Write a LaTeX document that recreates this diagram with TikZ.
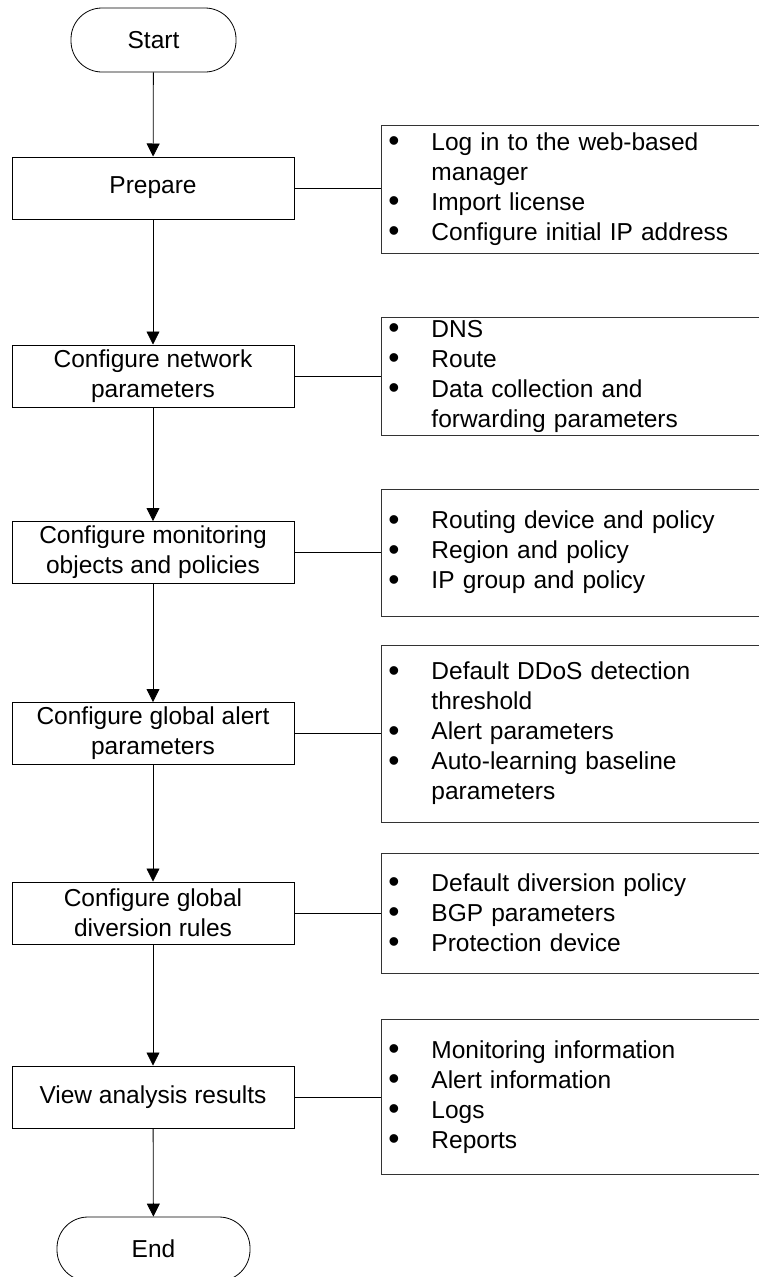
\documentclass[tikz,border=0pt]{standalone}
\usepackage{fontspec}
\usepackage{graphicx}
\setmainfont{Liberation Sans}
\usetikzlibrary{arrows.meta}
\tikzset{
 base/.style={font=\fontsize{24.5pt}{30pt}\selectfont},
 stepbox/.style={base, draw, line width=1pt, minimum width=282pt, minimum height=62pt, inner sep=0pt, align=center},
 term/.style={base, draw, line width=0.8pt, rounded corners=31pt, minimum height=64pt, inner sep=0pt},
 listbox/.style={base, draw=black!80, line width=0.9pt, anchor=west, inner xsep=7pt, inner ysep=0pt, text width=390pt, align=left},
 flow/.style={line width=0.8pt, -{Triangle[width=13pt,length=13pt]}},
 link/.style={line width=0.8pt},
}
\newcommand{\bul}{\makebox[43pt][l]{\raisebox{-1.6pt}{\scalebox{1.3}{\textbullet}}}}
\newcommand{\cont}{\hspace*{43pt}}
\begin{document}
\begin{tikzpicture}[x=1pt,y=-1pt]
\useasboundingbox (0,0) rectangle (759,1277);
\node[term, minimum width=165pt] (start) at (153.5,40) {Start};
\node[stepbox] (prep) at (153,188) {Prepare};
\node[stepbox] (net) at (153,376) {Configure network\\parameters};
\node[stepbox] (mon) at (153,552.5) {Configure monitoring\\objects and policies};
\node[stepbox] (alert) at (153,733.5) {Configure global alert\\parameters};
\node[stepbox] (div) at (153,913) {Configure global\\diversion rules};
\node[stepbox] (view) at (153,1097) {View analysis results};
\node[term, minimum width=193pt] (end) at (153.5,1249) {End};

\node[listbox, minimum height=128pt] (prepL) at (381,189) {\bul Log in to the web-based\\\cont manager\\\bul Import license\\\bul Configure initial IP address};
\node[listbox, minimum height=118pt] (netL) at (381,376) {\bul DNS\\\bul Route\\\bul Data collection and\\\cont forwarding parameters};
\node[listbox, minimum height=127pt] (monL) at (381,552.5) {\bul Routing device and policy\\\bul Region and policy\\\bul IP group and policy};
\node[listbox, minimum height=177pt] (alertL) at (381,733.5) {\bul Default DDoS detection\\\cont threshold\\\bul Alert parameters\\\bul Auto-learning baseline\\\cont parameters};
\node[listbox, minimum height=120pt] (divL) at (381,913) {\bul Default diversion policy\\\bul BGP parameters\\\bul Protection device};
\node[listbox, minimum height=155pt] (viewL) at (381,1097) {\bul Monitoring information\\\bul Alert information\\\bul Logs\\\bul Reports};

\draw[flow] (start) -- (prep);
\draw[flow] (prep) -- (net);
\draw[flow] (net) -- (mon);
\draw[flow] (mon) -- (alert);
\draw[flow] (alert) -- (div);
\draw[flow] (div) -- (view);
\draw[flow] (view) -- (end);

\draw[link] (prep.east) -- (prepL.west |- prep.east);
\draw[link] (net.east) -- (netL.west);
\draw[link] (mon.east) -- (monL.west);
\draw[link] (alert.east) -- (alertL.west);
\draw[link] (div.east) -- (divL.west);
\draw[link] (view.east) -- (viewL.west);
\end{tikzpicture}
\end{document}
